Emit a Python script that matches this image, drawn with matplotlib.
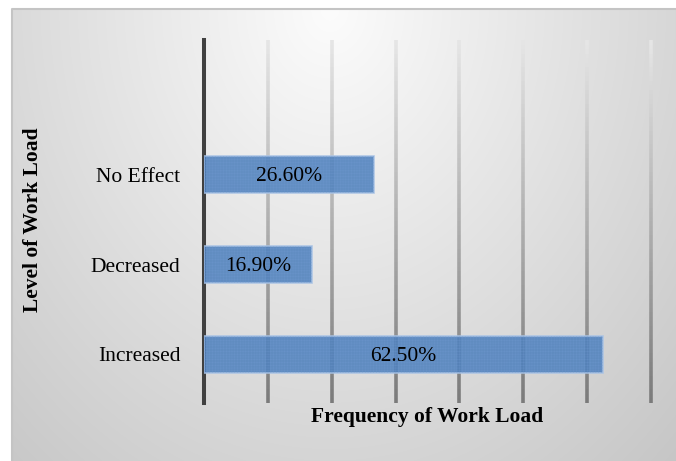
import numpy as np
import matplotlib
matplotlib.use('Agg')
import matplotlib.pyplot as plt
from matplotlib.collections import LineCollection
from matplotlib.colors import to_rgb

categories = ['Increased', 'Decreased', 'No Effect']
values = [62.5, 16.9, 26.6]
value_labels = ['62.50%', '16.90%', '26.60%']

W, H = 676, 461
plt.rcParams['font.family'] = ['Liberation Serif', 'DejaVu Serif']
plt.rcParams['hatch.linewidth'] = 0.35

fig = plt.figure(figsize=(W / 100, H / 100), dpi=100)
fig.patch.set_facecolor('white')

# grey radial backdrop of the chart area
bx0, by0 = 12, 9
bg = fig.add_axes([bx0 / W, 0, (W - bx0) / W, (H - by0) / H], zorder=-5)
xx, yy = np.meshgrid(np.arange(bx0, W) + 0.5, np.arange(by0, H) + 0.5)
r = np.sqrt(((xx - 330) / 420) ** 2 + ((yy - 10) / 520) ** 2)
shade = np.clip(252 - 45 * r, 0, 255) / 255
bg.imshow(np.dstack([shade] * 3), aspect='auto', interpolation='bilinear',
          extent=[0, 1, 0, 1], origin='upper')
bg.set_xlim(0, 1)
bg.set_ylim(0, 1)
bg.axis('off')
bg.plot([0, 0, 1], [0, 1, 1], color='#c4c4c4', lw=1.5, clip_on=False)

ax = fig.add_axes([204 / W, 1 - 403 / H, (651 - 204) / W, (403 - 40) / H])
ax.set_facecolor('none')
ax.set_xlim(0, 70)
ax.set_ylim(-0.54, 3.5)

# vertical gridlines fading from light at the top to darker at the bottom
top_c = np.array(to_rgb('#e6e6e6'))
bot_c = np.array(to_rgb('#7a7a7a'))
n = 80
ys = np.linspace(0, 1, n + 1)
segs, cols = [], []
for gx in range(10, 80, 10):
    for i in range(n):
        segs.append([(gx, ys[i]), (gx, ys[i + 1])])
        t = (ys[i] + ys[i + 1]) / 2
        cols.append(bot_c + (top_c - bot_c) * t)
ax.add_collection(LineCollection(segs, colors=cols, linewidths=2.6,
                                 capstyle='butt', clip_on=False,
                                 transform=ax.get_xaxis_transform(), zorder=1))

pos = np.arange(len(categories))
ax.barh(pos, values, height=0.41, color='#4f81bd', alpha=0.88,
        edgecolor='#a9c3e5', linewidth=1.2, zorder=3)
ax.barh(pos, values, height=0.41, color='none', hatch='++++++',
        edgecolor='#6f98d0', linewidth=0, alpha=0.5, zorder=4)

for p, v, lab in zip(pos, values, value_labels):
    ax.text(v / 2, p - 0.02, lab, ha='center', va='center', fontsize=15.5,
            color='black', zorder=5)

ax.set_yticks(pos)
ax.set_yticklabels(categories, fontsize=15.5)
ax.set_xticks([])
ax.tick_params(axis='y', length=0, pad=17)

for s in ['top', 'right', 'bottom']:
    ax.spines[s].set_visible(False)
ax.spines['left'].set_color('#404040')
ax.spines['left'].set_linewidth(2.9)

fig.text(427 / W, 1 - 417 / H, 'Frequency of Work Load', ha='center',
         va='center', fontsize=15.5, fontweight='bold')
fig.text(33 / W, 1 - 220 / H, 'Level of Work Load', ha='center',
         va='center', rotation=90, fontsize=15.5, fontweight='bold')

fig.savefig('out.png', dpi=100)
